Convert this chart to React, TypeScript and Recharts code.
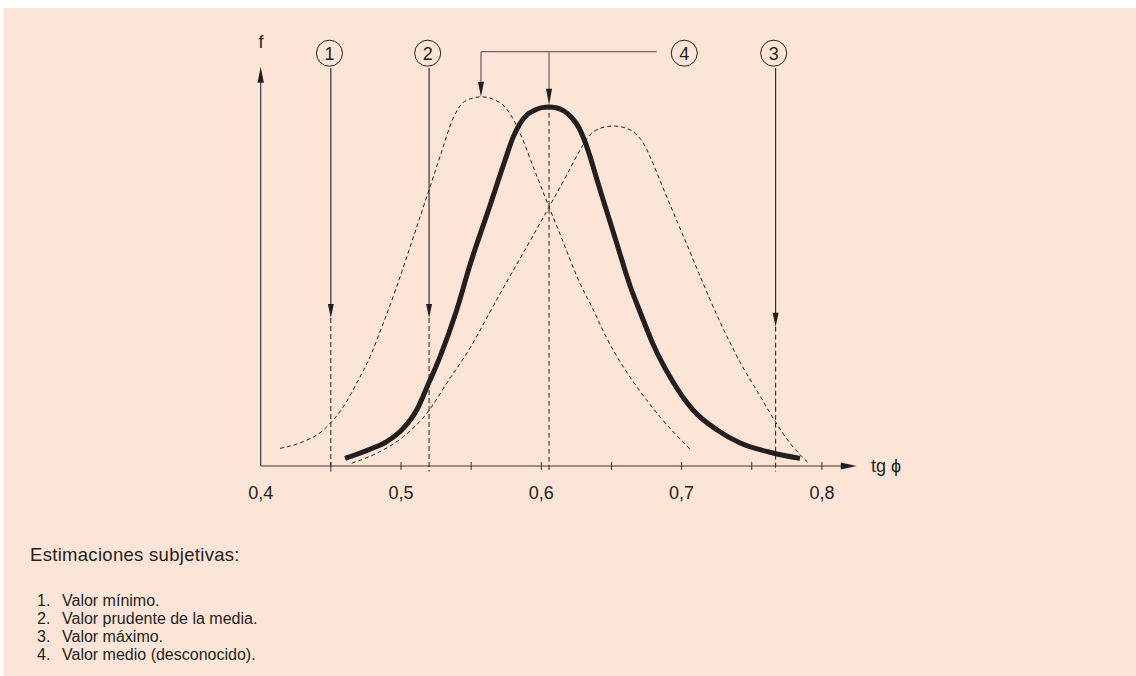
import React from 'react';
import { ComposedChart, Line, XAxis, YAxis, ReferenceLine, ReferenceDot } from 'recharts';

const FONT = '"Liberation Sans", Arial, Helvetica, sans-serif';
const INK = '#231f20';
const GREY = '#6a6a6a';
const BG = '#fce5d6';

// x = tg φ, f = frequency (arbitrary units)
const mediaCurve = [
  { x: 0.4601, f: 1.9 }, { x: 0.4779, f: 4.2 }, { x: 0.4898, f: 6.1 }, { x: 0.5016, f: 9.4 },
  { x: 0.5112, f: 14.0 }, { x: 0.5202, f: 21.1 }, { x: 0.5278, f: 27.3 }, { x: 0.5397, f: 39.0 },
  { x: 0.5492, f: 50.3 }, { x: 0.5634, f: 65.1 }, { x: 0.5741, f: 76.4 }, { x: 0.5798, f: 82.1 },
  { x: 0.5848, f: 85.6 }, { x: 0.5898, f: 87.8 }, { x: 0.5955, f: 89.0 }, { x: 0.6005, f: 89.6 },
  { x: 0.6055, f: 89.75 }, { x: 0.6105, f: 89.55 }, { x: 0.6162, f: 88.75 }, { x: 0.6219, f: 87.0 },
  { x: 0.6269, f: 84.5 }, { x: 0.6312, f: 81.0 }, { x: 0.6419, f: 69.0 }, { x: 0.6526, f: 57.0 },
  { x: 0.6633, f: 45.0 }, { x: 0.6704, f: 38.5 }, { x: 0.6796, f: 30.5 }, { x: 0.6939, f: 21.0 },
  { x: 0.7081, f: 14.0 }, { x: 0.7253, f: 9.0 }, { x: 0.7418, f: 5.75 }, { x: 0.7651, f: 3.25 },
  { x: 0.7844, f: 1.9 },
];

const leftCurve = [
  { x: 0.4138, f: 4.4 }, { x: 0.4304, f: 6.1 }, { x: 0.4423, f: 8.3 }, { x: 0.4496, f: 10.7 },
  { x: 0.4589, f: 14.8 }, { x: 0.4684, f: 20.7 }, { x: 0.4779, f: 27.3 }, { x: 0.4874, f: 35.7 },
  { x: 0.4969, f: 44.8 }, { x: 0.5086, f: 57.0 }, { x: 0.5207, f: 69.8 }, { x: 0.5301, f: 79.8 },
  { x: 0.5363, f: 86.25 }, { x: 0.542, f: 90.0 }, { x: 0.5491, f: 91.75 }, { x: 0.5575, f: 92.3 },
  { x: 0.5663, f: 91.6 }, { x: 0.5734, f: 90.0 }, { x: 0.5791, f: 87.25 }, { x: 0.5848, f: 83.2 },
  { x: 0.5943, f: 74.75 }, { x: 0.6038, f: 66.25 }, { x: 0.6133, f: 58.0 }, { x: 0.6275, f: 45.7 },
  { x: 0.6371, f: 39.0 }, { x: 0.6466, f: 32.0 }, { x: 0.6584, f: 24.8 }, { x: 0.6703, f: 18.75 },
  { x: 0.6846, f: 12.3 }, { x: 0.706, f: 4.2 },
];

const rightCurve = [
  { x: 0.4649, f: 0.7 }, { x: 0.485, f: 3.6 }, { x: 0.5016, f: 7.3 }, { x: 0.5202, f: 14.0 },
  { x: 0.5326, f: 20.7 }, { x: 0.5492, f: 29.5 }, { x: 0.5634, f: 38.5 }, { x: 0.5741, f: 45.25 },
  { x: 0.5896, f: 54.8 }, { x: 0.605, f: 64.4 }, { x: 0.6181, f: 72.75 }, { x: 0.6276, f: 79.0 },
  { x: 0.6333, f: 82.25 }, { x: 0.6418, f: 84.4 }, { x: 0.6513, f: 85.0 }, { x: 0.6609, f: 84.4 },
  { x: 0.6682, f: 82.75 }, { x: 0.6739, f: 80.0 }, { x: 0.6775, f: 77.3 }, { x: 0.6894, f: 67.3 },
  { x: 0.7036, f: 55.5 }, { x: 0.7155, f: 45.5 }, { x: 0.7274, f: 36.0 }, { x: 0.7416, f: 26.0 },
  { x: 0.7559, f: 17.5 }, { x: 0.7668, f: 11.1 }, { x: 0.7773, f: 5.7 }, { x: 0.7903, f: 0.8 },
];

const tickValues = [0.4, 0.45, 0.5, 0.55, 0.6, 0.65, 0.7, 0.75, 0.8];
const tickLabels = ['0,4', '', '0,5', '', '0,6', '', '0,7', '', '0,8'];

// subjective estimates (x positions), arrow tips (f), circle labels
const markerX = [0.45, 0.52, 0.767];
const markerTipF = [37, 37, 34.8];
const circleX = [0.449, 0.519, 0.7656, 0.7019];
const circleLabels = ['1', '2', '3', '4'];
const circleF = 103.2;
const lineTopF = 99.5;
const medioX = 0.6055;
const medioTipF = 90.3;
const modaIzqX = 0.557;
const modaIzqTipF = 92.3;
const bracketF = 103.6;
const bracketEndX = 0.6822;

const legendTitle = 'Estimaciones subjetivas:';
const legendItems = ['Valor mínimo.', 'Valor prudente de la media.', 'Valor máximo.', 'Valor medio (desconocido).'];

type SegOpts = { color: string; width?: number; arrow?: boolean; head?: number; half?: number; dash?: string };
const segShape = (o: SegOpts) => (p: any) => {
  const { x1, y1, x2, y2 } = p;
  const dx = x2 - x1;
  const dy = y2 - y1;
  const len = Math.hypot(dx, dy) || 1;
  const ux = dx / len;
  const uy = dy / len;
  const head = o.arrow ? (o.head ?? 14) : 0;
  const hw = o.half ?? 3;
  const bx = x2 - ux * head;
  const by = y2 - uy * head;
  return (
    <g>
      <line
        x1={x1}
        y1={y1}
        x2={o.arrow ? bx + ux : x2}
        y2={o.arrow ? by + uy : y2}
        stroke={o.color}
        strokeWidth={o.width ?? 1}
        strokeDasharray={o.dash}
      />
      {o.arrow && (
        <polygon
          points={`${x2},${y2} ${bx - uy * hw},${by + ux * hw} ${bx + uy * hw},${by - ux * hw}`}
          fill={INK}
        />
      )}
    </g>
  );
};

const circleShape = (label: string) => (p: any) => (
  <g>
    <circle cx={p.cx} cy={p.cy} r={13} fill="none" stroke={INK} strokeWidth={1} />
    <text x={p.cx} y={p.cy + 6.5} textAnchor="middle" fontFamily={FONT} fontSize={18} fill={INK}>
      {label}
    </text>
  </g>
);

const AxisTick = (props: any) => {
  const { x, y, payload } = props;
  const i = tickValues.findIndex((v) => Math.abs(v - payload.value) < 1e-6);
  const label = i >= 0 ? tickLabels[i] : '';
  return (
    <g>
      {i > 0 && <line x1={x} x2={x} y1={y - 4} y2={y + 4} stroke="#3a3a3a" strokeWidth={1} />}
      {label && (
        <text x={x} y={y + 33} textAnchor="middle" fontFamily={FONT} fontSize={18} fill={INK}>
          {label}
        </text>
      )}
    </g>
  );
};

export default function App() {
  return (
    <div
      style={{
        position: 'fixed',
        left: 0,
        top: 0,
        width: 1136,
        height: 676,
        background: '#fff',
        overflow: 'hidden',
        fontFamily: FONT,
        color: INK,
      }}
    >
      <div style={{ position: 'absolute', left: 4, top: 8, width: 1132, height: 668, background: BG }} />
      <div style={{ position: 'absolute', left: 0, top: 0 }}>
        <ComposedChart width={1136} height={676} margin={{ top: 26, right: 279, bottom: 180, left: 260.7 }}>
          <XAxis
            type="number"
            dataKey="x"
            domain={[0.4, 0.825]}
            allowDataOverflow
            ticks={tickValues}
            interval={0}
            axisLine={false}
            tickLine={false}
            tickSize={0}
            tickMargin={0}
            height={30}
            tick={<AxisTick />}
          />
          <YAxis type="number" dataKey="f" domain={[0, 110]} allowDataOverflow hide width={0} />

          <ReferenceLine
            ifOverflow="visible"
            segment={[{ x: 0.4, y: 0 }, { x: 0.8248, y: 0 }]}
            shape={segShape({ color: '#3a3a3a', width: 1.2, arrow: true, head: 16, half: 3.5 })}
          />
          <ReferenceLine
            ifOverflow="visible"
            segment={[{ x: 0.4, y: 0 }, { x: 0.4, y: 99.8 }]}
            shape={segShape({ color: '#3a3a3a', width: 1.2, arrow: true, head: 16, half: 3.2 })}
          />

          {markerX.map((mx, i) => (
            <ReferenceLine
              key={'d' + i}
              ifOverflow="visible"
              segment={[{ x: mx, y: markerTipF[i] }, { x: mx, y: -1.4 }]}
              shape={segShape({ color: INK, width: 1, dash: '5 3' })}
            />
          ))}
          <ReferenceLine
            ifOverflow="visible"
            segment={[{ x: medioX, y: medioTipF }, { x: medioX, y: -1.4 }]}
            shape={segShape({ color: INK, width: 1, dash: '5 3' })}
          />

          <Line data={leftCurve} dataKey="f" type="monotone" dot={false} stroke={INK} strokeWidth={1}
            strokeDasharray="4 3" isAnimationActive={false} />
          <Line data={rightCurve} dataKey="f" type="monotone" dot={false} stroke={INK} strokeWidth={1}
            strokeDasharray="4 3" isAnimationActive={false} />
          <Line data={mediaCurve} dataKey="f" type="monotone" dot={false} stroke={INK} strokeWidth={5}
            isAnimationActive={false} />

          {markerX.map((mx, i) => (
            <ReferenceLine
              key={'a' + i}
              ifOverflow="visible"
              segment={[{ x: mx, y: lineTopF }, { x: mx, y: markerTipF[i] }]}
              shape={segShape({ color: INK, width: 1.1, arrow: true, head: 14, half: 3 })}
            />
          ))}
          <ReferenceLine
            ifOverflow="visible"
            segment={[{ x: modaIzqX, y: bracketF }, { x: bracketEndX, y: bracketF }]}
            shape={segShape({ color: GREY, width: 1.3 })}
          />
          <ReferenceLine
            ifOverflow="visible"
            segment={[{ x: modaIzqX, y: bracketF }, { x: modaIzqX, y: modaIzqTipF }]}
            shape={segShape({ color: GREY, width: 1.3, arrow: true, head: 15, half: 3 })}
          />
          <ReferenceLine
            ifOverflow="visible"
            segment={[{ x: medioX, y: bracketF }, { x: medioX, y: medioTipF }]}
            shape={segShape({ color: GREY, width: 1.3, arrow: true, head: 16, half: 3 })}
          />

          {circleX.map((cx, i) => (
            <ReferenceDot key={'c' + i} ifOverflow="visible" x={cx} y={circleF} r={13}
              shape={circleShape(circleLabels[i])} />
          ))}
        </ComposedChart>
      </div>

      <div style={{ position: 'absolute', left: 251, top: 31, width: 20, textAlign: 'center', fontSize: 18, lineHeight: '22px' }}>
        f
      </div>
      <div style={{ position: 'absolute', left: 871, top: 455, fontSize: 18, lineHeight: '22px', whiteSpace: 'nowrap' }}>
        tg ϕ
      </div>

      <div style={{ position: 'absolute', left: 30, top: 544, fontSize: 18.5, lineHeight: '22px', whiteSpace: 'nowrap', letterSpacing: 0.3 }}>
        {legendTitle}
      </div>
      <div style={{ position: 'absolute', left: 37, top: 592, fontSize: 16, lineHeight: '18px' }}>
        {legendItems.map((t, i) => (
          <div key={i} style={{ display: 'flex', whiteSpace: 'nowrap' }}>
            <span style={{ width: 25 }}>{i + 1}.</span>
            <span>{t}</span>
          </div>
        ))}
      </div>
    </div>
  );
}
